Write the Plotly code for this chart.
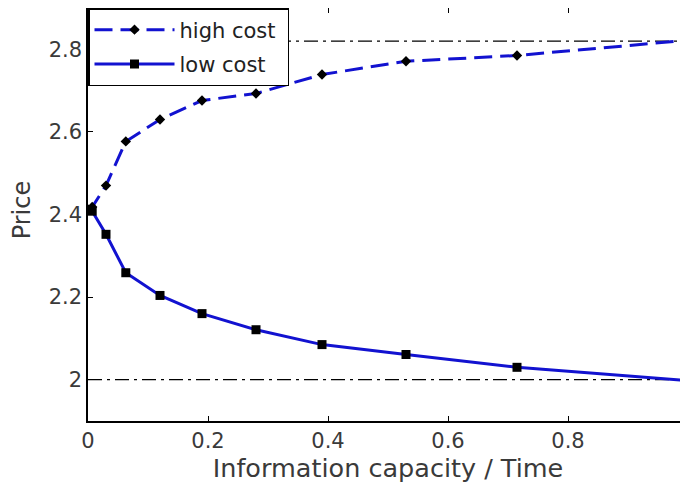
import plotly.graph_objects as go

# Data
x_vals = [0.0, 0.007, 0.03, 0.063, 0.12, 0.19, 0.28, 0.39, 0.53, 0.715, 1.0]
high_cost = [2.412, 2.418, 2.47, 2.577, 2.63, 2.676, 2.693, 2.739, 2.771, 2.785, 2.822]
low_cost = [2.412, 2.408, 2.352, 2.259, 2.204, 2.160, 2.121, 2.085, 2.061, 2.030, 1.998]
ref_levels = [2.0, 2.82]
x_ticks = [0, 0.2, 0.4, 0.6, 0.8, 1.0]
x_tick_labels = ["0", "0.2", "0.4", "0.6", "0.8", "1"]
y_ticks = [2.0, 2.2, 2.4, 2.6, 2.8]
y_tick_labels = ["2", "2.2", "2.4", "2.6", "2.8"]

FONT = "DejaVu Sans"
TXT = "#3a3a3a"

fig = go.Figure()

for lv in ref_levels:
    fig.add_trace(go.Scatter(
        x=[0, 1], y=[lv, lv], mode="lines",
        line=dict(color="black", width=1.2, dash="14px,5px,3px,5px"),
        showlegend=False, hoverinfo="skip"))

fig.add_trace(go.Scatter(
    x=x_vals, y=high_cost, mode="lines+markers",
    name="high cost\u00a0",
    legendgroup="a",
    line=dict(color="#1212d0", width=3, dash="18px,8px"),
    marker=dict(symbol="diamond", size=8, color="black")))

fig.add_trace(go.Scatter(
    x=x_vals, y=low_cost, mode="lines+markers",
    name="low cost",
    legendgroup="b",
    line=dict(color="#1212d0", width=3),
    marker=dict(symbol="square", size=9, color="black")))

axis_common = dict(
    showline=True, linecolor="black", linewidth=1.5, mirror="ticks",
    ticks="inside", ticklen=5, tickcolor="black", tickwidth=1,
    showgrid=False, zeroline=False, automargin=False,
    tickfont=dict(family=FONT, size=21, color=TXT),
)

fig.update_xaxes(range=[0, 1], tickvals=x_ticks, ticktext=x_tick_labels,
                 title=dict(text="Information capacity / Time",
                            font=dict(family=FONT, size=25.5, color=TXT),
                            standoff=7),
                 **axis_common)
fig.update_yaxes(range=[1.9, 2.9], tickvals=y_ticks, ticktext=y_tick_labels,
                 **axis_common)

fig.add_annotation(text="Price", xref="paper", yref="paper",
                   x=-66 / 600, y=0.51, xanchor="center", yanchor="middle",
                   textangle=-90, showarrow=False,
                   font=dict(family=FONT, size=24, color=TXT))

fig.update_layout(
    width=688, height=493,
    margin=dict(l=80, r=8, t=0, b=80),
    paper_bgcolor="white", plot_bgcolor="white",
    legend=dict(x=0, y=1, xanchor="left", yanchor="top",
                bgcolor="white", bordercolor="black", borderwidth=1.5,
                font=dict(family=FONT, size=21, color="#222"),
                itemwidth=80,
                traceorder="grouped", tracegroupgap=4),
)

fig.write_html("out.html")
